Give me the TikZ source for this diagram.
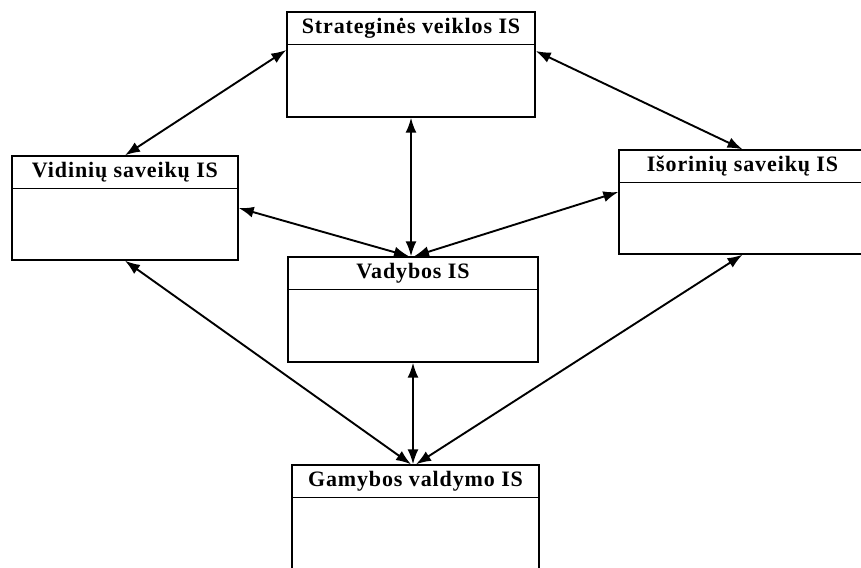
\documentclass[tikz,border=0pt]{standalone}
\usepackage{fontspec}
\setmainfont{Liberation Serif}
\usetikzlibrary{arrows.meta,calc}

\tikzset{
  x=1pt, y=-1pt,
  box/.style={draw, line width=1.4pt, rectangle, inner sep=0pt},
  boxtitle/.style={font=\bfseries\fontsize{22}{24}\selectfont\addfontfeature{LetterSpace=4}, inner sep=0pt, anchor=center},
  link/.style={line width=1.9pt, {Latex[length=15pt,width=11pt]}-{Latex[length=15pt,width=11pt]}},
}

% a box with a title band across its top
\newcommand{\isbox}[6]{% name, x1, y1, x2, y2, title
  \node[box, minimum width={#4-#2}, minimum height={#5-#3}] (#1) at ({(#2+#4)/2},{(#3+#5)/2}) {};
  \draw[line width=1.4pt] ($(#1.north west)+(0,33)$) -- ($(#1.north east)+(0,33)$);
  \node[boxtitle] (#1-title) at ($(#1.north)+(0,17)$) {#6};
}

\begin{document}
\begin{tikzpicture}
\clip (0,0) rectangle (861,567);
\fill[white] (0,0) rectangle (861,567);

\isbox{strat}{287}{12}{535}{117}{Strateginės veiklos IS}
\isbox{vid}{12}{156}{238}{260}{Vidinių saveikų IS}
\isbox{isor}{619}{150}{866}{254}{Išorinių saveikų IS}
\isbox{vad}{288}{257}{538}{362}{Vadybos IS}
\isbox{gam}{292}{465}{539}{580}{Gamybos valdymo IS}

\coordinate (vadtop) at (vad.north -| strat.south);
\coordinate (gamtop) at (gam.north -| vad.south);

\draw[link] ([yshift=14.5pt]strat.west) -- (vid.north);
\draw[link] ([yshift=13.5pt]strat.east) -- (isor.north);
\draw[link] (strat.south) -- (vadtop);
\draw[link] (vid.east) -- ($(vadtop)+(-2,0)$);
\draw[link] ([yshift=10pt]isor.west) -- ($(vadtop)+(3,0)$);
\draw[link] (vid.south) -- ($(gamtop)+(-2,0)$);
\draw[link] (isor.south) -- ($(gamtop)+(3,0)$);
\draw[link] (vad.south) -- (gamtop);
\end{tikzpicture}
\end{document}
